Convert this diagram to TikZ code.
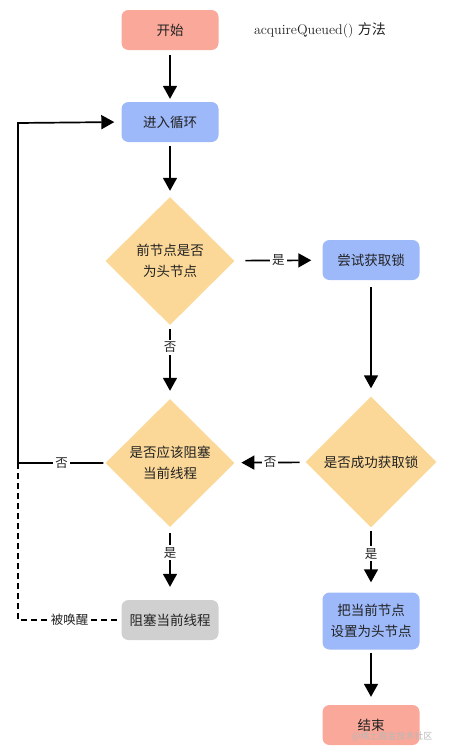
\documentclass[tikz,border=0pt]{standalone}
\usepackage{fontspec}
\newfontfamily\cjk{Noto Sans CJK SC}
\usetikzlibrary{shapes.geometric,arrows.meta}
\definecolor{salmon}{HTML}{F9A899}
\definecolor{procblue}{HTML}{9DB9F9}
\definecolor{decyellow}{HTML}{FBD897}
\definecolor{blockgray}{HTML}{D0D0D0}
\definecolor{txt}{HTML}{222222}
\begin{document}
\begin{tikzpicture}[x=1pt,y=-1pt,
  box/.style={rounded corners=7pt, minimum width=97pt, minimum height=40pt, inner sep=0pt,
    font=\cjk\fontsize{13.5}{21}\selectfont, text=txt, align=center},
  startend/.style={box, fill=salmon},
  proc/.style={box, fill=procblue},
  dec/.style={diamond, fill=decyellow, minimum width=129pt, minimum height=128pt, inner sep=0pt,
    font=\cjk\fontsize{13.5}{21}\selectfont, text=txt, align=center},
  arr/.style={line width=1.7pt, -{Triangle[width=14pt,length=13pt]}},
  wake/.style={line width=1.5pt, dash pattern=on 6pt off 4pt},
  lbl/.style={fill=white, font=\cjk\fontsize{12.5}{14}\selectfont, text=txt, inner sep=2pt}
]
\useasboundingbox (0,0) rectangle (449,755);

\node[startend] (start) at (170,30) {开始};
\node[font=\fontsize{14}{16}\selectfont, text=txt] (title) at (320,30) {acquireQueued() {\cjk 方法}};
\node[proc] (loop) at (170,122) {进入循环};
\node[dec] (d1) at (170,261) {前节点是否\\为头节点};
\node[proc] (try) at (371,260) {尝试获取锁};
\node[dec, minimum width=131pt, minimum height=131pt] (d3) at (371,462) {是否成功获取锁};
\node[dec] (d2) at (170,463) {是否应该阻塞\\当前线程};
\node[box, fill=blockgray] (block) at (170,620) {阻塞当前线程};
\node[proc, minimum height=57pt] (set) at (371,621) {把当前节点\\设置为头节点};
\node[startend] (end) at (371,725) {结束};

\coordinate (L) at (18,463);
\coordinate (LT) at (18,123);

\draw[arr, shorten <=5pt, shorten >=3pt] (start) -- (loop);
\draw[arr, shorten <=4pt, shorten >=6pt] (loop) -- (d1);
\draw[arr, shorten <=11pt, shorten >=11pt] (d1) -- node[lbl]{是} (try);
\draw[arr, shorten <=4pt, shorten >=8pt] (d1) -- node[lbl, pos=0.3]{否} (d2);
\draw[arr, shorten <=7pt, shorten >=8pt] (try) -- (d3);
\draw[arr, shorten <=6pt, shorten >=7pt] (d3) -- node[lbl]{否} (d2);
\draw[arr, shorten <=6pt, shorten >=13pt] (d2) -- node[lbl, pos=0.35]{是} (block);
\draw[arr, shorten <=3pt, shorten >=10pt] (d3) -- node[lbl, pos=0.4]{是} (set);
\draw[arr, shorten <=3pt, shorten >=8pt] (set) -- (end);
\draw[arr, shorten <=2pt, shorten >=7pt] (d2.west) -- node[lbl]{否} (L) -- (LT) -- (loop.west);
\draw[wake, shorten >=4pt] (L) -- (L |- block.west) -- node[lbl, inner sep=1pt]{被唤醒} (block.west);

\node[font=\cjk\fontsize{9}{10}\selectfont, text=gray!55] (wm) at (392,736) {@稀土掘金技术社区};
\end{tikzpicture}
\end{document}
